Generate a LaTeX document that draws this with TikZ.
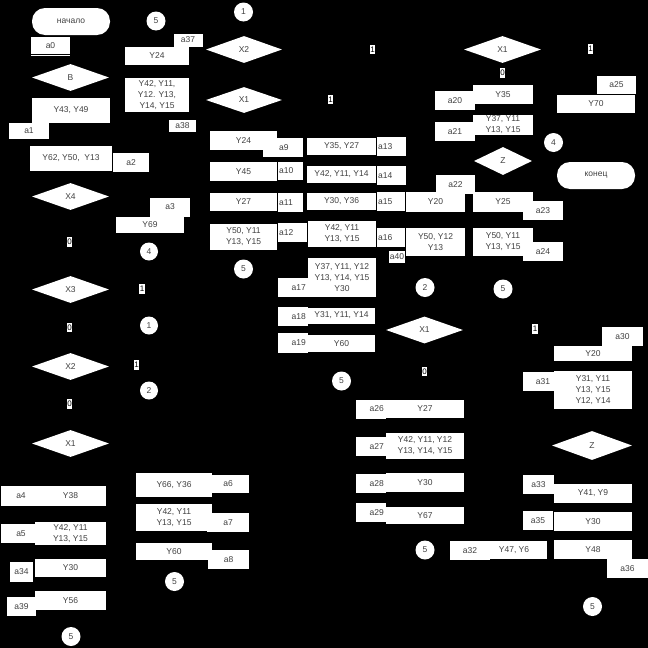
\documentclass[tikz,border=0pt]{standalone}
\usepackage{fontspec}
\setmainfont{Liberation Sans}
\usepackage{tikz}
\usetikzlibrary{shapes.geometric}
\definecolor{ink}{HTML}{404040}
\newcommand{\lbl}{\fontsize{8.5}{11}\selectfont}
\begin{document}
\begin{tikzpicture}[x=1pt,y=-1pt,
  blk/.style={rectangle,fill=white,inner sep=0pt,font=\lbl,text=ink,align=center},
  abox/.style={rectangle,fill=white,inner sep=1pt,font=\lbl,text=ink},
  aleft/.style={abox,anchor=west,align=left,text width=#1},
  aright/.style={abox,anchor=east,align=right,text width=#1,inner xsep=2pt},
  cond/.style={diamond,fill=white,inner sep=0pt,font=\lbl,text=ink},
  term/.style={rectangle,rounded corners=13pt,fill=white,font=\lbl,text=ink,minimum width=78,minimum height=27},
  conn/.style={circle,fill=white,inner sep=0pt,minimum size=19,font=\lbl,text=ink},
  flag/.style={rectangle,fill=white,inner xsep=0.3pt,inner ysep=1.8pt,font=\fontsize{8}{8}\selectfont,text=black}]
\fill[black] (0,0) rectangle (648,648);
\useasboundingbox (0,0) rectangle (648,648);
\node[term] (start) at (71,21.5) {начало};
\node[conn] (c5a) at (156,21) {5};
\node[abox,minimum width=39,minimum height=17] (a0) at (50.5,45.5) {a0};
\draw[white,line width=0.7pt] (31,55.5)--(70,55.5);
\node[cond,minimum width=77,minimum height=27] (xb) at (70.5,77.5) {B};
\node[blk,minimum width=78,minimum height=25] (y4349) at (71,110.5) {Y43, Y49};
\node[abox,minimum width=40,minimum height=16] (a1) at (29,131) {a1};
\node[blk,minimum width=82,minimum height=25] (y625013) at (71,158.5) {Y62, Y50,\ \ Y13};
\node[abox,minimum width=36,minimum height=19] (a2) at (131,162.5) {a2};
\node[cond,minimum width=77,minimum height=27] (x4) at (70.5,196.5) {X4};
\node[abox,minimum width=40,minimum height=19] (a3) at (170,207) {a3};
\node[blk,minimum width=68,minimum height=16] (y69) at (150,225) {Y69};
\node[flag] (f0a) at (69.5,242) {0};
\node[conn,minimum size=18] (c4a) at (149,251.5) {4};
\node[cond,minimum width=77,minimum height=27] (x3) at (70.5,289.5) {X3};
\node[flag] (f1a) at (142,289) {1};
\node[flag] (f0b) at (69.5,327.5) {0};
\node[conn,minimum size=18] (c1a) at (149,325.5) {1};
\node[cond,minimum width=77,minimum height=27] (x2l) at (70.5,366.5) {X2};
\node[flag] (f1b) at (136.5,365) {1};
\node[conn,minimum size=18] (c2a) at (149,390.5) {2};
\node[flag] (f0c) at (69.5,404) {0};
\node[cond,minimum width=77,minimum height=27] (x1l) at (70.5,443.5) {X1};
\node[abox,minimum width=40,minimum height=20] (a4) at (21,496) {a4};
\node[blk,minimum width=71,minimum height=20] (y38) at (70.5,496) {Y38};
\node[abox,minimum width=40,minimum height=19] (a5) at (21,533.5) {a5};
\node[blk,minimum width=71,minimum height=23] (y42l) at (70.5,533.5) {Y42, Y11\\Y13, Y15};
\node[abox,minimum width=23,minimum height=20] (a34) at (21.5,572) {a34};
\node[blk,minimum width=71,minimum height=18] (y30l) at (70.5,568) {Y30};
\node[abox,minimum width=29,minimum height=19] (a39) at (21.5,606.5) {a39};
\node[blk,minimum width=71,minimum height=19] (y56) at (70.5,600.5) {Y56};
\node[conn] (c5b) at (71,636.5) {5};
\node[abox,minimum width=29,minimum height=13] (a37) at (188,40) {a37};
\node[blk,minimum width=64,minimum height=18] (y24a) at (157,56) {Y24};
\node[blk,minimum width=64,minimum height=34] (y42t) at (157,95) {Y42, Y11,\\Y12. Y13,\\Y14, Y15};
\node[abox,minimum width=27,minimum height=12] (a38) at (182.5,126) {a38};
\node[abox,minimum width=42,minimum height=18] (a6) at (228,484) {a6};
\node[blk,minimum width=76,minimum height=24] (y6636) at (174,485) {Y66, Y36};
\node[abox,minimum width=42,minimum height=19] (a7) at (228,522.5) {a7};
\node[blk,minimum width=76,minimum height=27] (y42m) at (174,517.5) {Y42, Y11\\Y13, Y15};
\node[abox,minimum width=41,minimum height=19] (a8) at (228.5,559.5) {a8};
\node[blk,minimum width=76,minimum height=17] (y60l) at (174,551.5) {Y60};
\node[conn] (c5c) at (174.5,581.5) {5};
\node[conn] (c1b) at (243.5,12) {1};
\node[cond,minimum width=76,minimum height=27] (x2t) at (244,49.5) {X2};
\node[flag] (f1c) at (372.5,49.5) {1};
\node[cond,minimum width=76,minimum height=26] (x1t) at (244,100) {X1};
\node[flag] (f1d) at (330.5,99.5) {1};
\fill[white] (263,138) rectangle (279,157);
\node[aleft=23pt,minimum height=19] (a9) at (278,147.5) {a9};
\node[blk,minimum width=67,minimum height=19] (y24b) at (243.5,140.5) {Y24};
\node[aleft=23pt,minimum height=18] (a10) at (278,171) {a10};
\node[blk,minimum width=67,minimum height=19] (y45) at (243.5,171.5) {Y45};
\node[aleft=23pt,minimum height=19] (a11) at (278,202.5) {a11};
\node[blk,minimum width=67,minimum height=18] (y27a) at (243.5,202) {Y27};
\node[aleft=27pt,minimum height=19] (a12) at (278,232.5) {a12};
\node[blk,minimum width=67,minimum height=26] (y5011l) at (243.5,237) {Y50, Y11\\Y13, Y15};
\node[conn] (c5d) at (243.5,269) {5};
\node[aright=26pt,minimum height=19] (a17) at (308,287.5) {a17};
\node[aright=26pt,minimum height=19] (a18) at (308,316.5) {a18};
\node[aright=26pt,minimum height=20] (a19) at (308,343) {a19};
\node[aleft=27pt,minimum height=19] (a13) at (377,146.5) {a13};
\node[aleft=27pt,minimum height=19] (a14) at (377,175.5) {a14};
\node[aleft=26pt,minimum height=19] (a15) at (377,201.5) {a15};
\node[aleft=26pt,minimum height=19] (a16) at (377,237.5) {a16};
\node[blk,minimum width=69,minimum height=17] (y3527) at (341.5,146.5) {Y35, Y27};
\node[blk,minimum width=69,minimum height=17] (y421114) at (341.5,174.5) {Y42, Y11, Y14};
\node[blk,minimum width=69,minimum height=17] (y3036) at (341.5,201.5) {Y30, Y36};
\node[blk,minimum width=68,minimum height=26] (y4211c) at (342,234) {Y42, Y11\\Y13, Y15};
\node[blk,minimum width=68,minimum height=39] (y37c) at (342,277.5) {Y37, Y11, Y12\\Y13, Y14, Y15\\Y30};
\node[blk,minimum width=67,minimum height=16] (y311114) at (341.5,315.5) {Y31, Y11, Y14};
\node[blk,minimum width=67,minimum height=17] (y60m) at (341.5,343.5) {Y60};
\node[conn] (c5e) at (341.5,381) {5};
\node[abox,minimum height=12] (a40) at (397,257) {a40};
\node[abox,minimum width=40,minimum height=19] (a20) at (455,100.5) {a20};
\node[abox,minimum width=40,minimum height=19] (a21) at (455,131.5) {a21};
\node[abox,minimum width=39,minimum height=19] (a22) at (455.5,184.5) {a22};
\node[blk,minimum width=59,minimum height=20] (y20a) at (435.5,202) {Y20};
\node[blk,minimum width=59,minimum height=28] (y501213) at (435.5,242) {Y50, Y12\\Y13};
\node[conn] (c2b) at (425,287.5) {2};
\node[cond,minimum width=77,minimum height=27] (x1m) at (424.5,330) {X1};
\node[flag] (f0d) at (424.5,371.5) {0};
\node[aright=26pt,minimum height=19] (a26) at (386,409) {a26};
\node[blk,minimum width=78,minimum height=18] (y27b) at (425,409) {Y27};
\node[aright=26pt,minimum height=19] (a27) at (386,446.5) {a27};
\node[blk,minimum width=78,minimum height=26] (y42c) at (425,446) {Y42, Y11, Y12\\Y13, Y14, Y15};
\node[aright=26pt,minimum height=19] (a28) at (386,483.5) {a28};
\node[blk,minimum width=78,minimum height=19] (y30m) at (425,482.5) {Y30};
\node[aright=26pt,minimum height=19] (a29) at (386,512.5) {a29};
\node[blk,minimum width=78,minimum height=17] (y67) at (425,515.5) {Y67};
\node[conn] (c5f) at (425,550) {5};
\node[cond,minimum width=77,minimum height=27] (x1r) at (502.5,49.5) {X1};
\node[flag] (f0e) at (502.5,73) {0};
\node[flag] (f1e) at (590.5,49) {1};
\node[blk,minimum width=60,minimum height=19] (y35) at (503,94.5) {Y35};
\node[blk,minimum width=60,minimum height=20] (y37r) at (503,125) {Y37, Y11\\Y13, Y15};
\node[conn] (c4b) at (553.5,142.5) {4};
\node[cond,minimum width=58,minimum height=28] (z1) at (503,161) {Z};
\node[abox,minimum width=40,minimum height=19] (a23) at (543,210.5) {a23};
\node[blk,minimum width=60,minimum height=20] (y25) at (503,202) {Y25};
\node[abox,minimum width=40,minimum height=19] (a24) at (543,251.5) {a24};
\node[blk,minimum width=60,minimum height=28] (y5011r) at (503,242) {Y50, Y11\\Y13, Y15};
\node[conn] (c5g) at (503,289) {5};
\node[flag] (f1f) at (535,329) {1};
\node[abox,minimum width=40,minimum height=19] (a31) at (543,381.5) {a31};
\node[abox,minimum width=31,minimum height=19] (a33) at (538.5,484.5) {a33};
\node[abox,minimum width=30,minimum height=19] (a35) at (538,520.5) {a35};
\node[abox,minimum width=40,minimum height=19] (a32) at (470,550.5) {a32};
\node[blk,minimum width=66,minimum height=18] (y476) at (514,550) {Y47, Y6};
\node[abox,minimum width=39,minimum height=18] (a25) at (616.5,85) {a25};
\node[blk,minimum width=78,minimum height=18] (y70) at (596,104) {Y70};
\node[term] (finish) at (596,175.5) {конец};
\node[abox,minimum width=41,minimum height=19] (a30) at (622.5,336.5) {a30};
\node[blk,minimum width=78,minimum height=15] (y20b) at (593,353.5) {Y20};
\node[blk,minimum width=78,minimum height=38] (y31r) at (593,390) {Y31, Y11\\Y13, Y15\\Y12, Y14};
\node[cond,minimum width=80,minimum height=29] (z2) at (592,445.5) {Z};
\node[blk,minimum width=78,minimum height=19] (y419) at (593,493.5) {Y41, Y9};
\node[blk,minimum width=78,minimum height=19] (y30r) at (593,521.5) {Y30};
\node[blk,minimum width=78,minimum height=19] (y48) at (593,549.5) {Y48};
\node[abox,minimum width=41,minimum height=19] (a36) at (627.5,568.5) {a36};
\node[conn] (c5h) at (592.5,606.5) {5};
\end{tikzpicture}
\end{document}
